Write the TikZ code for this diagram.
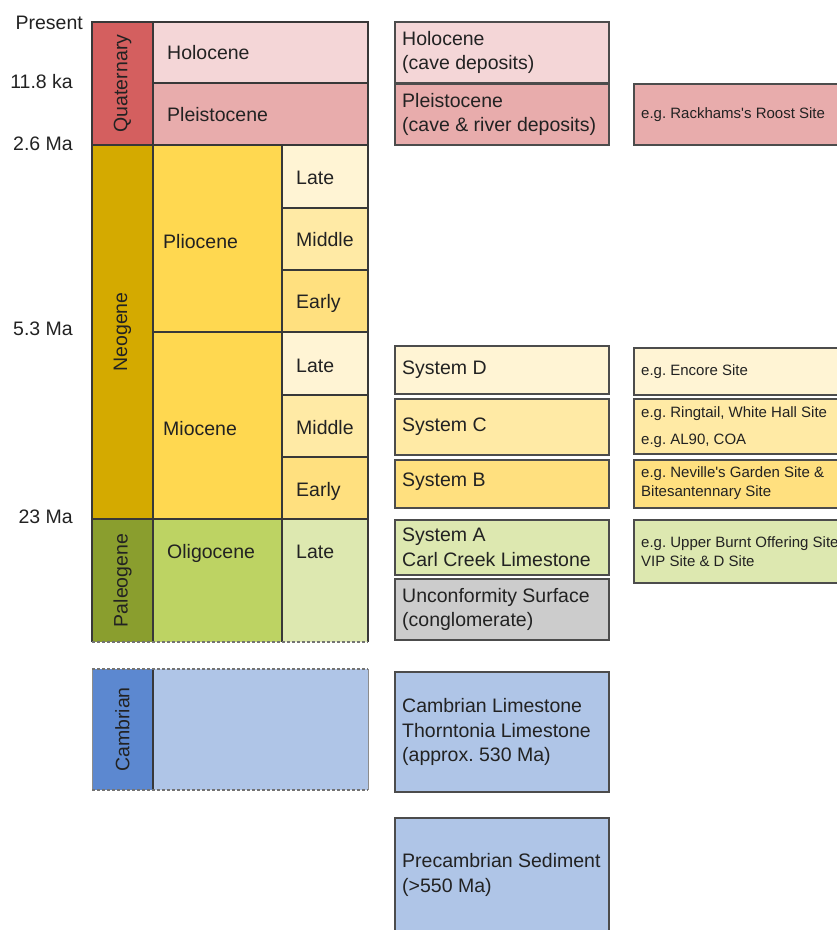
\documentclass[tikz,border=0pt]{standalone}
\usepackage{fontspec}
\setmainfont{Liberation Sans}
\definecolor{quatC}{HTML}{D45F5F}
\definecolor{holoC}{HTML}{F4D6D7}
\definecolor{pleisC}{HTML}{E8ACAC}
\definecolor{neoC}{HTML}{D4AA00}
\definecolor{epochY}{HTML}{FFD850}
\definecolor{lateY}{HTML}{FFF4D4}
\definecolor{midY}{HTML}{FFEAA5}
\definecolor{earlyY}{HTML}{FFE07F}
\definecolor{paleoC}{HTML}{8A9E2E}
\definecolor{oligoC}{HTML}{BDD363}
\definecolor{oliLateC}{HTML}{DDE8B0}
\definecolor{cambC}{HTML}{5C88D0}
\definecolor{cambL}{HTML}{AFC5E7}
\definecolor{greyC}{HTML}{CCCCCC}
\definecolor{txtC}{HTML}{222222}
\begin{document}
\frenchspacing
\begin{tikzpicture}[x=1pt,y=-1pt,
  bx/.style={draw=black!78, line width=1.4pt, inner sep=0pt, outer sep=0pt, anchor=north west},
  rbx/.style={draw=black!70, line width=1.3pt, inner sep=0pt, outer sep=0pt, anchor=north west},
  fbx/.style={inner sep=0pt, outer sep=0pt, anchor=north west},
  big/.style={font=\fontsize{19.5}{24.5}\selectfont, text=txtC, inner sep=0pt},
  small/.style={font=\fontsize{15}{19}\selectfont, text=txtC, inner sep=0pt},
  solidedge/.style={draw=black!78, line width=1.4pt},
  thinedge/.style={draw=black!45, line width=1pt},
  dashedge/.style={draw=black!55, line width=1.1pt, dash pattern=on 3pt off 2pt},
]
\useasboundingbox (0,0) rectangle (837,930);
\clip (0,0) rectangle (837,930);

% ---------- time labels ----------
\node[big, anchor=base east] (tPresent) at (83,29) {Present};
\node[big, anchor=base east] (t118) at (73,88) {11.8 ka};
\node[big, anchor=base east] (t26) at (73,150) {2.6 Ma};
\node[big, anchor=base east] (t53) at (73,335) {5.3 Ma};
\node[big, anchor=base east] (t23) at (73,523) {23 Ma};

% ---------- Quaternary ----------
\node[bx, fill=quatC, minimum width=61, minimum height=123] (quat) at (92,22) {};
\node[big, rotate=90] (quatL) at (quat.center) {Quaternary};
\node[bx, fill=holoC, minimum width=215, minimum height=61] (holo) at (153,22) {};
\node[big, anchor=base west] (holoL) at (167,59) {Holocene};
\node[bx, fill=pleisC, minimum width=215, minimum height=62] (pleis) at (153,83) {};
\node[big, anchor=base west] (pleisL) at (167,121) {Pleistocene};

% ---------- Neogene ----------
\node[bx, fill=neoC, minimum width=61, minimum height=374] (neo) at (92,145) {};
\node[big, rotate=90] (neoL) at (neo.center) {Neogene};
\node[bx, fill=epochY, minimum width=129, minimum height=187] (plio) at (153,145) {};
\node[big, anchor=base west] (plioL) at (163,248) {Pliocene};
\node[bx, fill=lateY, minimum width=86, minimum height=63] (plioLate) at (282,145) {};
\node[big, anchor=base west] (plioLateL) at (296,184) {Late};
\node[bx, fill=midY, minimum width=86, minimum height=62] (plioMid) at (282,208) {};
\node[big, anchor=base west] (plioMidL) at (296,246) {Middle};
\node[bx, fill=earlyY, minimum width=86, minimum height=62] (plioEarly) at (282,270) {};
\node[big, anchor=base west] (plioEarlyL) at (296,308) {Early};

\node[bx, fill=epochY, minimum width=129, minimum height=187] (mio) at (153,332) {};
\node[big, anchor=base west] (mioL) at (163,435) {Miocene};
\node[bx, fill=lateY, minimum width=86, minimum height=63] (mioLate) at (282,332) {};
\node[big, anchor=base west] (mioLateL) at (296,372) {Late};
\node[bx, fill=midY, minimum width=86, minimum height=62] (mioMid) at (282,395) {};
\node[big, anchor=base west] (mioMidL) at (296,434) {Middle};
\node[bx, fill=earlyY, minimum width=86, minimum height=62] (mioEarly) at (282,457) {};
\node[big, anchor=base west] (mioEarlyL) at (296,496) {Early};

% ---------- Paleogene ----------
\node[fbx, fill=paleoC, minimum width=61, minimum height=123] (paleo) at (92,519) {};
\node[fbx, fill=oligoC, minimum width=129, minimum height=123] (oligo) at (153,519) {};
\node[fbx, fill=oliLateC, minimum width=86, minimum height=123] (oliLate) at (282,519) {};
\node[big, rotate=90] (paleoL) at (paleo.center) {Paleogene};
\node[big, anchor=base west] (oligoL) at (167,558) {Oligocene};
\node[big, anchor=base west] (oliLateL) at (296,558) {Late};
\draw[solidedge] (paleo.south west) -- (paleo.north west) -- (oliLate.north east) -- (oliLate.south east);
\draw[solidedge] (oligo.north west) -- (oligo.south west);
\draw[solidedge] (oligo.north east) -- (oligo.south east);
\draw[dashedge] (paleo.south west) -- (oliLate.south east);

% ---------- Cambrian ----------
\node[fbx, fill=cambC, minimum width=61, minimum height=121] (camb) at (92,669) {};
\node[fbx, fill=cambL, minimum width=215, minimum height=121] (cambBox) at (153,669) {};
\node[big, rotate=90] (cambL) at (camb.center) {Cambrian};
\draw[thinedge] (camb.north west) -- (camb.south west);
\draw[thinedge] (cambBox.north east) -- (cambBox.south east);
\draw[solidedge] (camb.north east) -- (camb.south east);
\draw[dashedge] (camb.north west) -- (cambBox.north east);
\draw[dashedge] (camb.south west) -- (cambBox.south east);

% ---------- deposits column ----------
\node[rbx, fill=holoC, minimum width=214, minimum height=61] (holoR) at (395,22) {};
\node[big, anchor=west, align=left] (holoRt) at ([xshift=7pt]holoR.west) {Holocene\\(cave deposits)};
\node[rbx, fill=pleisC, minimum width=214, minimum height=61] (pleisR) at (395,84) {};
\node[big, anchor=west, align=left] (pleisRt) at ([xshift=7pt]pleisR.west) {Pleistocene\\(cave \& river deposits)};
\node[rbx, fill=lateY, minimum width=214, minimum height=48] (sysD) at (395,346) {};
\node[big, anchor=west, align=left] (sysDt) at ([xshift=7pt]sysD.west) {System D};
\node[rbx, fill=midY, minimum width=214, minimum height=56] (sysC) at (395,399) {};
\node[big, anchor=west, align=left] (sysCt) at ([xshift=7pt]sysC.west) {System C};
\node[rbx, fill=earlyY, minimum width=214, minimum height=48] (sysB) at (395,460) {};
\node[big, anchor=west, align=left] (sysBt) at ([xshift=7pt,yshift=2pt]sysB.west) {System B};
\node[rbx, fill=oliLateC, minimum width=214, minimum height=55] (sysA) at (395,520) {};
\node[big, anchor=west, align=left] (sysAt) at ([xshift=7pt]sysA.west) {System A\\Carl Creek Limestone};
\node[rbx, fill=greyC, minimum width=214, minimum height=61] (uncon) at (395,579) {};
\node[big, anchor=west, align=left] (unconT) at ([xshift=7pt]uncon.west) {Unconformity Surface\\(conglomerate)};
\node[rbx, fill=cambL, minimum width=214, minimum height=120] (cambR) at (395,672) {};
\node[big, anchor=west, align=left] (cambRt) at ([xshift=7pt]cambR.west) {Cambrian Limestone\\Thorntonia Limestone\\(approx. 530 Ma)};
\node[rbx, fill=cambL, minimum width=214, minimum height=114] (precR) at (395,818) {};
\node[big, anchor=west, align=left] (precRt) at ([xshift=7pt]precR.west) {Precambrian Sediment\\(>550 Ma)};

% ---------- sites column ----------
\node[rbx, fill=pleisC, minimum width=230, minimum height=61] (rack) at (634,84) {};
\node[small, anchor=west, align=left] (rackT) at ([xshift=7pt]rack.west) {e.g. Rackhams\textquotesingle s Roost Site};
\node[rbx, fill=lateY, minimum width=230, minimum height=47] (encore) at (634,348) {};
\node[small, anchor=west, align=left] (encoreT) at ([xshift=7pt]encore.west) {e.g. Encore Site};
\node[rbx, fill=midY, minimum width=230, minimum height=55] (ring) at (634,399) {};
\node[small, anchor=west, align=left] (ringT) at ([xshift=7pt,yshift=-1pt]ring.west) {e.g. Ringtail, White Hall Site\\[8pt]e.g. AL90, COA};
\node[rbx, fill=earlyY, minimum width=230, minimum height=48] (nev) at (634,460) {};
\node[small, anchor=west, align=left] (nevT) at ([xshift=7pt,yshift=1pt]nev.west) {e.g. Neville\textquotesingle s Garden Site \&\\Bitesantennary Site};
\node[rbx, fill=oliLateC, minimum width=230, minimum height=63] (burnt) at (634,520) {};
\node[small, anchor=west, align=left] (burntT) at ([xshift=7pt]burnt.west) {e.g. Upper Burnt Offering Site\\VIP Site \& D Site};
\end{tikzpicture}
\end{document}
